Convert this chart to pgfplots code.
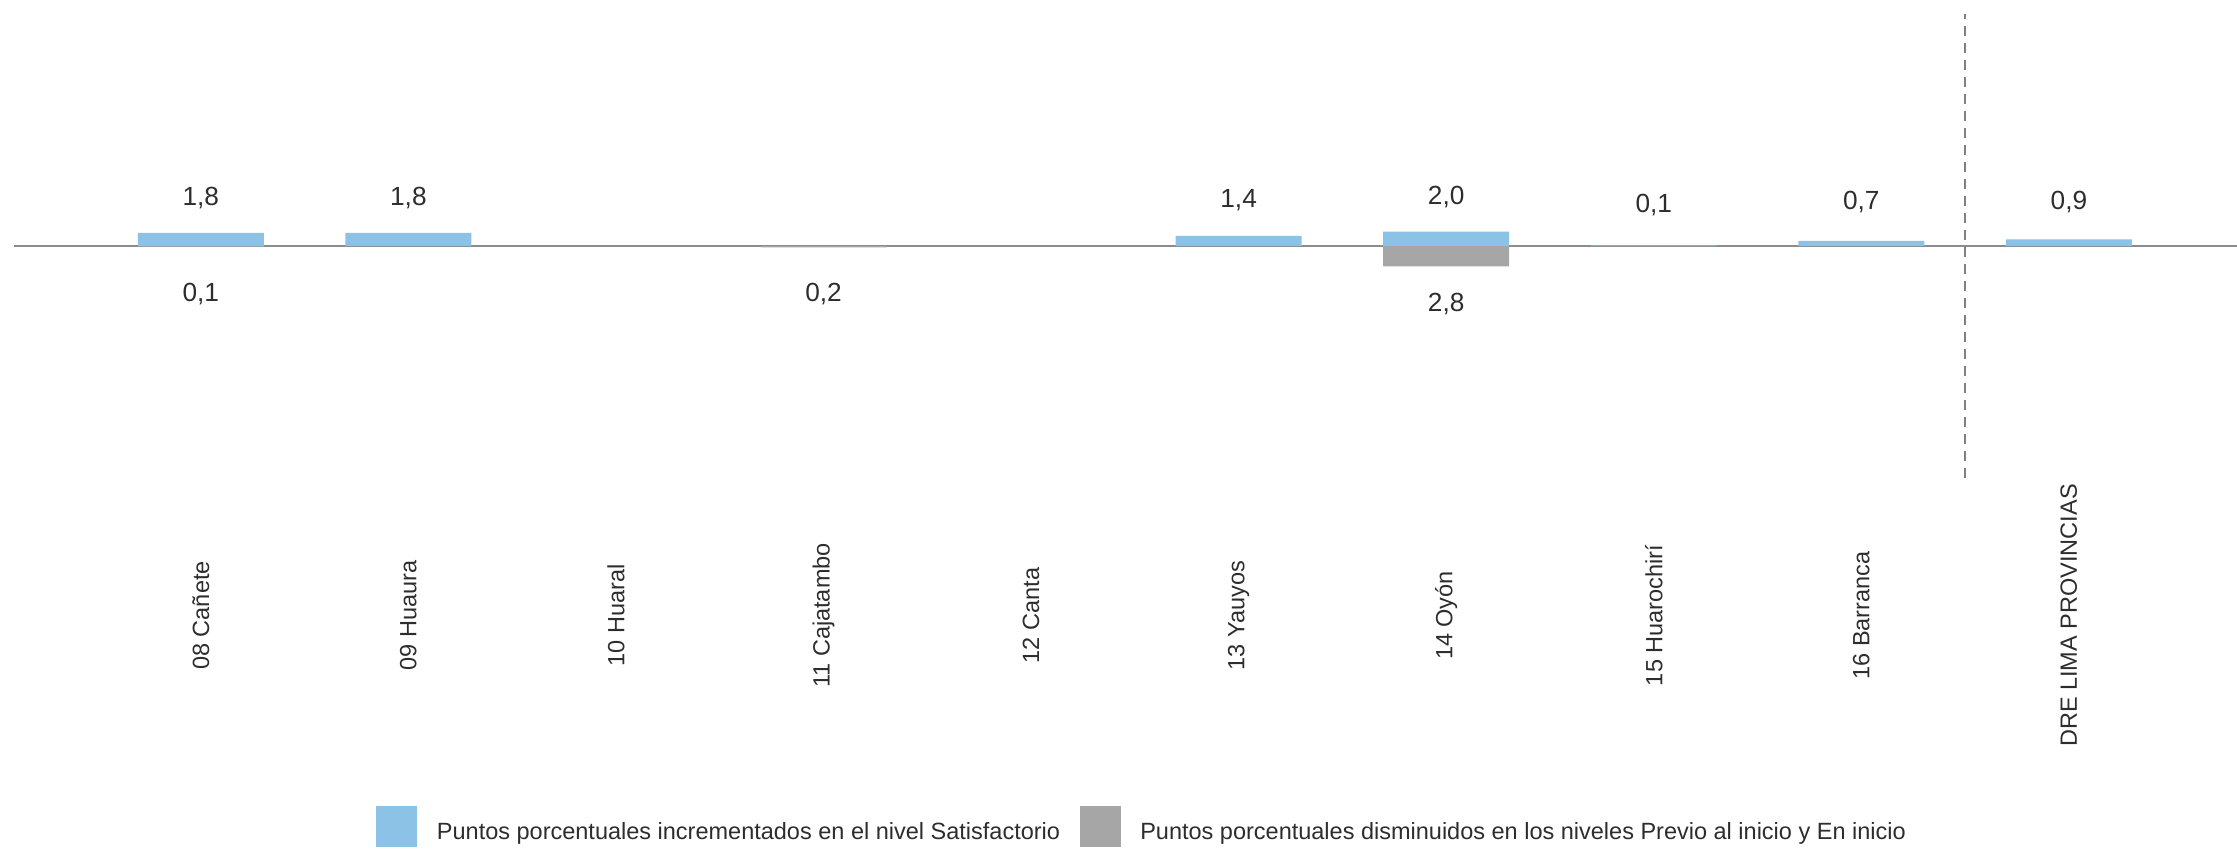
\documentclass[border=0pt]{standalone}
\usepackage{fontspec}
\setmainfont{Liberation Sans}
\usepackage{pgfplots}
\pgfplotsset{compat=1.18}
\definecolor{barblue}{RGB}{139,194,230}
\definecolor{bargrey}{RGB}{166,166,166}
\definecolor{txt}{RGB}{45,45,45}
\begin{document}
\begin{tikzpicture}
\begin{axis}[
  name=ax,
  scale only axis,
  width=889.2pt, height=185.6pt,
  xmin=-0.9, xmax=9.81,
  ymin=-32, ymax=32,
  axis line style={draw=none},
  ytick=\empty,
  xtick={0,1,2,3,4,5,6,7,8,9},
  xticklabels={08 Cañete, 09 Huaura, 10 Huaral, 11 Cajatambo, 12 Canta, 13 Yauyos, 14 Oyón, 15 Huarochirí, 16 Barranca, DRE LIMA PROVINCIAS},
  major tick length=0pt,
  xticklabel style={yshift=-55pt, rotate=90, anchor=center, font=\fontsize{9.4}{11}\selectfont, text=txt},
  extra x ticks={8.5}, extra x tick labels={},
  extra x tick style={grid=major, major grid style={gray, line width=1pt, dash pattern=on 4pt off 2.8pt}},
  extra y ticks={0}, extra y tick labels={},
  extra y tick style={grid=major, major grid style={black!45, line width=1pt}},
  ybar, bar width=0.607, bar shift=0pt,
  point meta=explicit symbolic,
  nodes near coords,
  visualization depends on={y \as \rawy},
  legend columns=2,
  legend style={draw=none, fill=none, at={(0.5,0)}, anchor=center, xshift=10.1pt, yshift=-139.6pt,
    font=\fontsize{9.4}{11}\selectfont, text=txt,
    /tikz/every even column/.append style={column sep=0pt},
    nodes={inner xsep=7.8pt}},
  legend image code/.code={\fill[#1] (0pt,-5.5pt) rectangle (16.5pt,11pt);},
]
\addplot[fill=barblue, draw=none,
  every node near coord/.append style={anchor=base, inner sep=0pt, yshift={13.4pt-1.35pt*\rawy}, font=\fontsize{10.5}{12}\selectfont, text=txt}]
  coordinates {(0,1.8)[1,8] (1,1.8)[1,8] (5,1.4)[1,4] (6,2.0)[2,0] (7,0.1)[0,1] (8,0.7)[0,7] (9,0.9)[0,9]};
\addlegendentry{Puntos porcentuales incrementados en el nivel Satisfactorio}
\addplot[fill=bargrey, draw=none,
  every node near coord/.append style={anchor=base, inner sep=0pt, yshift={-22.1pt-1.43pt*\rawy}, font=\fontsize{10.5}{12}\selectfont, text=txt}]
  coordinates {(0,-0.1)[0,1] (3,-0.2)[0,2] (6,-2.8)[2,8]};
\addlegendentry{Puntos porcentuales disminuidos en los niveles Previo al inicio y En inicio}
\end{axis}
\pgfresetboundingbox
\path[use as bounding box] ([xshift=-5.6pt, yshift=5.6pt]ax.north west) rectangle ([yshift=-148.8pt]ax.south east);
\end{tikzpicture}
\end{document}
